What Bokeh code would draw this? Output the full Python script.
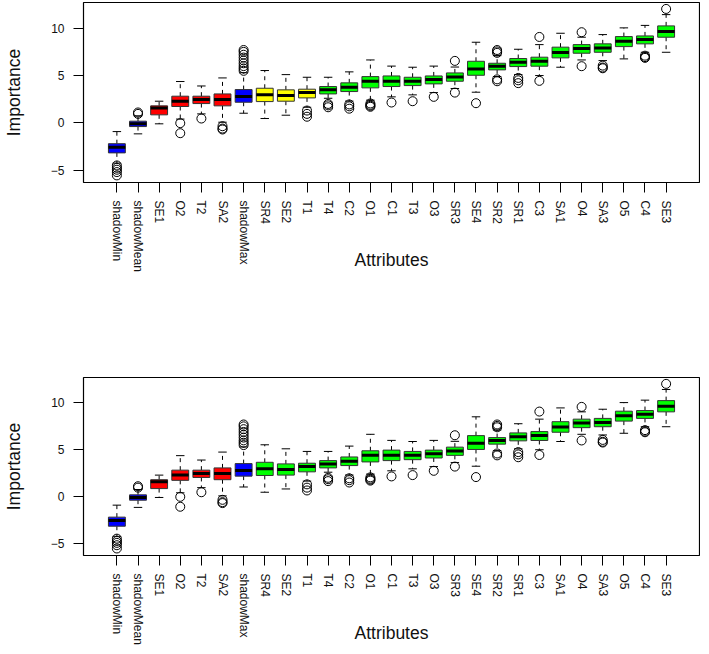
import numpy as np
from bokeh.plotting import figure
from bokeh.models import Range1d, FixedTicker, ColumnDataSource
from bokeh.layouts import column
from bokeh.embed import file_html
from bokeh.resources import INLINE

attributes = ["shadowMin", "shadowMean", "SE1", "O2", "T2", "SA2", "shadowMax",
              "SR4", "SE2", "T1", "T4", "C2", "O1", "C1", "T3", "O3", "SR3",
              "SE4", "SR2", "SR1", "C3", "SA1", "O4", "SA3", "O5", "C4", "SE3"]
whisker_low = [-4.25, -1.16, -0.10, 0.40, 0.95, 0.07, 1.02, 0.46, 0.81, 1.65,
               2.60, 2.30, 2.40, 2.75, 2.96, 3.20, 3.63, 3.24, 4.90, 5.10,
               5.00, 5.88, 6.65, 6.58, 6.76, 7.46, 7.46]
q1 = [-3.17, -0.39, 0.85, 1.73, 2.04, 1.80, 2.18, 2.25, 2.29, 2.64,
      3.06, 3.31, 3.70, 3.84, 3.94, 4.12, 4.40, 5.03, 5.60, 5.95,
      5.99, 6.87, 7.36, 7.46, 8.06, 8.35, 9.05]
median = [-2.57, -0.10, 1.58, 2.29, 2.46, 2.46, 2.78, 2.96, 2.89, 3.20,
          3.49, 3.77, 4.40, 4.40, 4.40, 4.58, 4.86, 5.70, 5.99, 6.40,
          6.51, 7.43, 7.85, 7.92, 8.63, 8.80, 9.65]
q3 = [-2.20, 0.18, 1.80, 2.82, 2.82, 3.06, 3.52, 3.66, 3.49, 3.56,
      3.84, 4.23, 4.89, 4.96, 4.82, 4.96, 5.28, 6.51, 6.30, 6.80,
      6.94, 8.00, 8.27, 8.35, 9.12, 9.19, 10.25]
whisker_high = [-0.92, 0.75, 2.29, 4.37, 3.90, 4.75, 5.30, 5.53, 5.10, 4.82,
                4.82, 5.39, 6.65, 6.00, 5.88, 6.00, 5.90, 8.52, 7.10, 7.78,
                8.27, 9.47, 9.05, 9.33, 10.04, 10.30, 11.44]
outliers = [[-4.5, -4.75, -4.95, -5.2, -5.55], [0.95, 1.1], [], [-0.03, -1.09],
            [0.46], [-0.35, -0.6, -0.7],
            [5.5, 5.75, 6.0, 6.3, 6.6, 6.9, 7.2, 7.5, 7.7],
            [], [], [1.3, 0.95, 0.65], [2.0, 1.85, 1.65], [1.95, 1.75, 1.5],
            [2.05, 1.9, 1.8, 1.7], [2.15], [2.29], [2.75], [6.55, 3.2], [2.08],
            [7.4, 7.55, 7.7, 4.6, 4.4], [4.75, 4.5, 4.2], [9.08, 4.44], [],
            [9.58, 5.99], [6.05, 5.85, 5.77], [], [7.1, 6.95, 6.87], [12.04]]
decision_top = ["Shadow", "Shadow", "Rejected", "Rejected", "Rejected", "Rejected",
                "Shadow", "Tentative", "Tentative", "Tentative"] + ["Confirmed"] * 17
decision_bottom = ["Shadow", "Shadow", "Rejected", "Rejected", "Rejected", "Rejected",
                   "Shadow"] + ["Confirmed"] * 20
y_ticks = [-5, 0, 5, 10]

COLORS = {"Shadow": "#0000FF", "Rejected": "#FF0000",
          "Tentative": "#FFFF00", "Confirmed": "#00FF00"}
FONT = "Liberation Sans"
XMIN, XMAX = -0.58, 28.58
YMIN, YMAX = -6.30, 12.72


def make_panel(decisions, height, border_top, border_bottom):
    n = len(attributes)
    xs = np.arange(1, n + 1, dtype=float)
    p = figure(width=700, height=height, output_backend="svg", toolbar_location=None,
               x_range=Range1d(XMIN, XMAX), y_range=Range1d(YMIN, YMAX),
               min_border_left=76, min_border_right=1,
               min_border_top=border_top, min_border_bottom=border_bottom,
               x_axis_label="Attributes", y_axis_label="Importance")
    p.xgrid.visible = False
    p.ygrid.visible = False
    p.outline_line_color = "black"
    p.outline_line_width = 1.2
    p.background_fill_color = "white"

    src = ColumnDataSource(dict(
        x=xs, left=xs - 0.4, right=xs + 0.4, q1=q1, q3=q3, med=median,
        lo=whisker_low, hi=whisker_high,
        cl=xs - 0.2, cr=xs + 0.2,
        color=[COLORS[d] for d in decisions]))
    # dashed whiskers
    p.segment(x0="x", y0="q3", x1="x", y1="hi", source=src, line_color="black",
              line_width=1, line_dash="4 4")
    p.segment(x0="x", y0="q1", x1="x", y1="lo", source=src, line_color="black",
              line_width=1, line_dash="4 4")
    # staples
    p.segment(x0="cl", y0="hi", x1="cr", y1="hi", source=src, line_color="black", line_width=1)
    p.segment(x0="cl", y0="lo", x1="cr", y1="lo", source=src, line_color="black", line_width=1)
    # boxes
    p.quad(left="left", right="right", bottom="q1", top="q3", source=src,
           fill_color="color", line_color="#333333", line_width=1)
    # medians
    p.segment(x0="left", y0="med", x1="right", y1="med", source=src,
              line_color="black", line_width=3)
    # outliers
    ox = [xs[i] for i, o in enumerate(outliers) for _ in o]
    oy = [v for o in outliers for v in o]
    p.scatter(ox, oy, marker="circle", size=9, fill_color=None,
              line_color="black", line_width=1)

    # axes
    p.xaxis.ticker = FixedTicker(ticks=list(xs))
    p.xaxis.major_label_overrides = {float(x): a for x, a in zip(xs, attributes)}
    p.xaxis.major_label_orientation = "vertical"
    p.yaxis.ticker = FixedTicker(ticks=y_ticks)
    p.yaxis.major_label_overrides = {t: (str(t).replace("-", "\u2212")) for t in y_ticks}
    for ax in (p.xaxis[0], p.yaxis[0]):
        ax.axis_line_color = None
        ax.major_tick_out = 10
        ax.major_tick_in = 0
        ax.minor_tick_out = 0
        ax.minor_tick_in = 0
        ax.major_tick_line_color = "black"
        ax.major_label_text_font = FONT
        ax.major_label_text_font_size = "12px"
        ax.major_label_text_color = "#111111"
        ax.axis_label_text_font = FONT
        ax.axis_label_text_font_size = "17.5px"
        ax.axis_label_text_font_style = "normal"
        ax.axis_label_text_color = "#111111"
    p.xaxis.major_label_standoff = 8
    p.yaxis.major_label_standoff = 9
    p.xaxis.axis_label_standoff = -25
    p.yaxis.axis_label_standoff = 24
    return p


p1 = make_panel(decision_top, 375, 2, 193)
p2 = make_panel(decision_bottom, 271, 2, 91)
layout = column(p1, p2, spacing=0)

open("out.html", "w").write(file_html(layout, INLINE))
